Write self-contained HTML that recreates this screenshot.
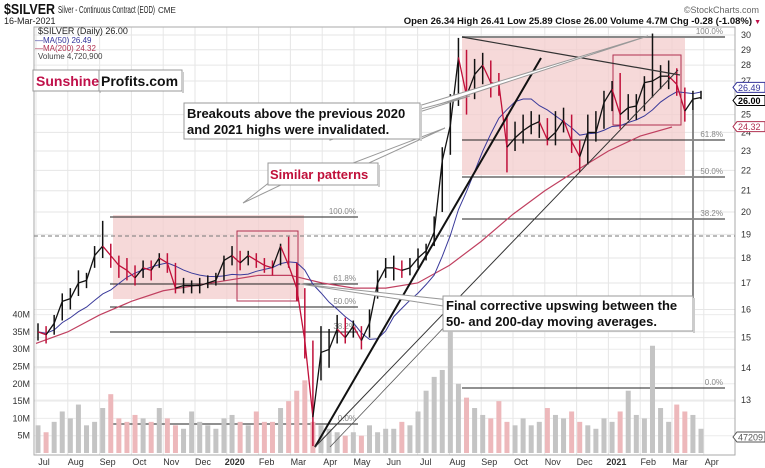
<!DOCTYPE html>
<html><head><meta charset="utf-8"><style>
body{margin:0;background:#fff;font-family:"Liberation Sans",sans-serif}
svg{display:block}
text{font-family:"Liberation Sans",sans-serif}
</style></head><body>
<svg id="c" width="765" height="468" xmlns="http://www.w3.org/2000/svg"></svg>
<script>
const closes=[15.2,15.1,15.5,16.3,16.4,17.0,17.1,18.1,18.5,18.1,17.7,17.5,17.2,17.6,17.5,18.0,17.8,16.8,16.9,16.9,16.9,17.0,17.1,17.9,18.1,17.8,18.1,17.9,17.7,17.6,18.5,17.7,16.8,14.9,12.5,14.5,14.6,15.3,15.0,15.4,14.9,15.5,17.0,17.6,17.6,17.5,17.6,18.0,18.3,19.1,22.5,24.4,28.5,26.1,27.4,28.0,26.9,26.8,23.2,23.7,24.1,24.4,24.6,23.6,24.0,24.7,23.5,22.7,24.0,24.0,25.7,26.5,25.0,25.4,25.5,26.9,27.0,27.3,27.3,26.8,25.2,25.9,26.0];
const highs=[15.5,15.4,15.8,16.6,16.8,17.5,17.4,18.5,19.6,18.6,18.1,18.0,17.7,17.9,17.9,18.2,18.2,17.8,17.2,17.1,17.2,17.3,17.4,18.1,18.5,18.3,18.3,18.2,18.0,17.9,18.6,18.9,17.8,16.8,14.9,15.4,15.3,15.8,15.7,15.6,15.4,16.0,17.5,18.0,18.1,17.9,18.0,18.4,18.6,19.8,23.2,26.2,29.8,29.0,28.4,28.8,28.3,27.5,25.0,24.6,25.0,25.2,25.0,24.8,25.2,25.4,25.0,23.6,25.0,25.2,26.4,27.0,27.5,26.2,26.2,27.3,30.1,28.0,28.3,27.8,26.6,26.4,26.4];
const lows=[14.9,14.8,15.1,15.6,16.0,16.5,16.8,17.6,18.0,17.6,17.2,17.1,16.9,17.2,17.1,17.6,17.4,16.6,16.6,16.6,16.6,16.8,16.9,17.1,17.7,17.5,17.7,17.6,17.4,17.3,17.7,17.6,16.3,14.3,11.7,13.6,14.0,14.8,14.8,15.0,14.6,15.0,16.4,17.2,17.1,17.2,17.3,17.6,17.9,18.5,20.0,22.8,25.5,25.0,25.9,26.8,26.0,26.1,21.9,23.0,23.4,23.9,23.7,23.3,23.3,24.0,22.9,21.9,22.3,23.5,24.2,25.2,24.2,24.7,24.7,25.2,26.0,26.5,26.5,26.1,24.6,24.8,25.9];
const volumes=[8,6,9,12,10,14,8,9,13,17,10,9,11,10,9,13,10,8,7,12,9,8,7,10,11,9,8,12,9,9,13,15,18,21,9,8,7,6,5,6,5,8,6,7,7,9,8,12,18,22,24,35,20,16,13,11,10,15,9,8,10,8,9,13,11,10,12,9,8,7,10,9,12,18,11,10,31,13,9,14,12,11,7];
const ma200=[14.8,15.2,15.8,16.3,16.7,16.9,17.1,17.3,17.3,17.0,16.8,16.8,17.0,17.7,18.7,19.9,21.0,22.0,23.0,23.8,24.3];
const priceTicks=[13,14,15,16,17,18,19,20,21,22,23,24,25,27,28,29,30];
const volTicks=[5,10,15,20,25,30,35,40];
const monthLabels=["Jul","Aug","Sep","Oct","Nov","Dec","2020","Feb","Mar","Apr","May","Jun","Jul","Aug","Sep","Oct","Nov","Dec","2021","Feb","Mar","Apr"];

const NS="http://www.w3.org/2000/svg",svg=document.getElementById('c');
function el(t,a,p){const e=document.createElementNS(NS,t);for(const k in a)e.setAttribute(k,a[k]);(p||svg).appendChild(e);return e;}
function tx(s,a,p){const e=el('text',a,p);e.textContent=s;return e;}
const L=34,R=735,T=27,B=455;
const yP=p=>35+(Math.log(30)-Math.log(p))*436.6;
const xI=i=>38+i*(701-38)/(closes.length-1);
const yV=v=>453-v*3.46;
const xM=m=>36+m*31.8;

const g=el('g',{});
priceTicks.forEach(p=>el('line',{x1:L,x2:R,y1:yP(p),y2:yP(p),stroke:'#e6e6e6'},g));
volTicks.forEach(v=>el('line',{x1:L,x2:R,y1:yV(v),y2:yV(v),stroke:'#ececec'},g));
monthLabels.forEach((m,i)=>el('line',{x1:xM(i),x2:xM(i),y1:T,y2:B,stroke:'#e6e6e6'},g));
el('rect',{x:L,y:T,width:R-L,height:B-T,fill:'none',stroke:'#aaa'});

let r=el('rect',{x:113,y:215,width:191,height:84,fill:'#f3cccc',opacity:.75});
r=el('rect',{x:462,y:37,width:223,height:138,fill:'#f3cccc',opacity:.75});
el('rect',{x:237,y:231,width:61,height:70,fill:'none',stroke:'#b03050'});
el('rect',{x:613,y:55,width:68,height:70,fill:'none',stroke:'#b03050'});

const fg=el('g',{});
[[217,'100.0%'],[284,'61.8%'],[307,'50.0%'],[332,'38.2%'],[424,'0.0%']].forEach(f=>{el('line',{x1:110,x2:358,y1:f[0],y2:f[0],stroke:'#222'},fg);tx(f[1],{x:356,y:f[0]-3,'text-anchor':'end','font-size':8,fill:'#888'},fg);});
[[37,'100.0%'],[140,'61.8%'],[177,'50.0%'],[219,'38.2%'],[388,'0.0%']].forEach(f=>{el('line',{x1:462,x2:725,y1:f[0],y2:f[0],stroke:f[0]==37?'#888':'#222','stroke-width':f[0]==37?2:1},fg);tx(f[1],{x:723,y:f[0]-3,'text-anchor':'end','font-size':8,fill:'#888'},fg);});
el('line',{x1:L,x2:R,y1:236,y2:236,stroke:'#777','stroke-dasharray':'4,3'});

const vg=el('g',{});
volumes.forEach((v,i)=>{const up=i==0||closes[i]>=closes[i-1];const b=el('rect',{x:xI(i)-2.5,y:yV(v),width:5,height:yV(0)-yV(v),fill:up?'#c4c4c4':'#edb8bb'},vg);});

let d='';ma200.forEach((v,i)=>{d+=(i?'L':'M')+xM(i)+','+yP(v);});
let p=el('path',{d,fill:'none',stroke:'#c04060','stroke-width':1.2});
d='';closes.forEach((c,i)=>{const s=closes.slice(Math.max(0,i-9),i+1);const m=s.reduce((a,b)=>a+b,0)/s.length;d+=(i?'L':'M')+xI(i)+','+yP(m);});
p=el('path',{d,fill:'none',stroke:'#3a3a9a','stroke-width':1});

const pg=el('g',{});
closes.forEach((c,i)=>{const up=i==0||c>=closes[i-1];const col=up?'#111':'#c0103a';
if(i){el('line',{x1:xI(i-1),y1:yP(closes[i-1]),x2:xI(i),y2:yP(c),stroke:col,'stroke-width':1.3},pg);}
const b=el('line',{x1:xI(i),x2:xI(i),y1:yP(highs[i]),y2:yP(lows[i]),stroke:col,'stroke-width':1.5},pg);});

el('line',{x1:462,y1:37,x2:680,y2:75,stroke:'#333','stroke-width':1.2});
el('line',{x1:315,y1:447,x2:541,y2:58,stroke:'#111','stroke-width':2});
el('line',{x1:315,y1:447,x2:678,y2:70,stroke:'#333','stroke-width':1});
el('line',{x1:330,y1:447,x2:470,y2:300,stroke:'#555','stroke-width':.8});
el('line',{x1:693,y1:110,x2:693,y2:300,stroke:'#888','stroke-width':2});

el('polygon',{points:'330,133 648,36 330,140',fill:'#fff',stroke:'#999'});
el('polygon',{points:'330,133 470,96 330,140',fill:'#fff',stroke:'#999'});
el('polygon',{points:'340,168 445,128 345,174',fill:'#fff',stroke:'#999'});
el('polygon',{points:'275,178 243,203 285,183',fill:'#fff',stroke:'#999'});
el('polygon',{points:'300,284 450,300 450,307',fill:'#fff',stroke:'#999'});

function box(x,y,w,h,name){const b=el('rect',{x,y,width:w,height:h,fill:'#fff',stroke:'#999'});el('rect',{x:x+w,y:y+2,width:2,height:h,fill:'#ccc'});}
box(184,103,236,36,'breakouts-annotation');
tx('Breakouts above the previous 2020',{x:187,y:118,'font-size':13,'font-weight':'bold',fill:'#111'});
tx('and 2021 highs were invalidated.',{x:187,y:134,'font-size':13,'font-weight':'bold',fill:'#111'});
box(268,163,110,22,'similar-patterns-annotation');
tx('Similar patterns',{x:270,y:179,'font-size':13,'font-weight':'bold',fill:'#c0103a'});
box(443,296,250,35,'final-upswing-annotation');
tx('Final corrective upswing between the',{x:446,y:310,'font-size':13,'font-weight':'bold',fill:'#111'});
tx('50- and 200-day moving averages.',{x:446,y:326,'font-size':13,'font-weight':'bold',fill:'#111'});
box(33,70,66,21,'logo-sunshine');box(99,70,83,21,'logo-profits');
tx('Sunshine',{x:36,y:86,'font-size':14,'font-weight':'bold',fill:'#c0104a'});
tx('Profits.com',{x:101,y:86,'font-size':14,'font-weight':'bold',fill:'#111'});

const ag=el('g',{'font-size':9,fill:'#333'});
priceTicks.forEach(p=>tx(String(p),{x:741,y:yP(p)+3},ag));
volTicks.forEach(v=>tx(v+'M',{x:30,y:yV(v)+3,'text-anchor':'end','font-size':9,fill:'#333'}));
monthLabels.forEach((m,i)=>{const t=tx(m,{x:xM(i)+8,y:465,'text-anchor':'middle','font-size':9,'font-weight':/^20/.test(m)?'bold':'normal',fill:'#333'});});
function tag(x,y,s,c,bold){el('polygon',{points:`${x},${y} ${x+4},${y-5} ${x+32},${y-5} ${x+32},${y+5} ${x+4},${y+5}`,fill:'#fff',stroke:c});tx(s,{x:x+5,y:y+3.5,'font-size':9,fill:c,'font-weight':bold?'bold':'normal'});}
tag(733,yP(26.49)-2,'26.49','#33339a');tag(733,yP(26.0)+3,'26.00','#000',1);tag(733,yP(24.32),'24.32','#b03050');tag(733,437,'47209','#555');

tx('$SILVER',{x:4,y:14,'font-size':15,'font-weight':'bold',fill:'#111',textLength:51,lengthAdjust:'spacingAndGlyphs'});
tx('Silver - Continuous Contract (EOD)',{x:58,y:13,'font-size':10,fill:'#222',textLength:97,lengthAdjust:'spacingAndGlyphs'});
tx('CME',{x:158,y:13,'font-size':8,fill:'#222'});
tx('16-Mar-2021',{x:4,y:24,'font-size':9,fill:'#222'});
tx('©StockCharts.com',{x:759,y:13,'font-size':9,fill:'#666','text-anchor':'end'});
tx('Open 26.34  High 26.41  Low 25.89  Close 26.00  Volume 4.7M  Chg -0.28 (-1.08%)',{x:752,y:24,'font-size':9.5,fill:'#111','text-anchor':'end','font-weight':'bold'});
tx('▼',{x:761,y:24,'font-size':7,fill:'#c0104a','text-anchor':'end'});
const lg=el('g',{'font-size':8});
tx('$SILVER (Daily) 26.00',{x:38,y:34,'font-size':9,fill:'#222','font-family':'Liberation Mono'},lg);
tx('—MA(50) 26.49',{x:35,y:43,fill:'#33339a'},lg);
tx('—MA(200) 24.32',{x:35,y:51,fill:'#b03050'},lg);
tx('Volume 4,720,900',{x:38,y:59,fill:'#444'},lg);
</script>
</body></html>
